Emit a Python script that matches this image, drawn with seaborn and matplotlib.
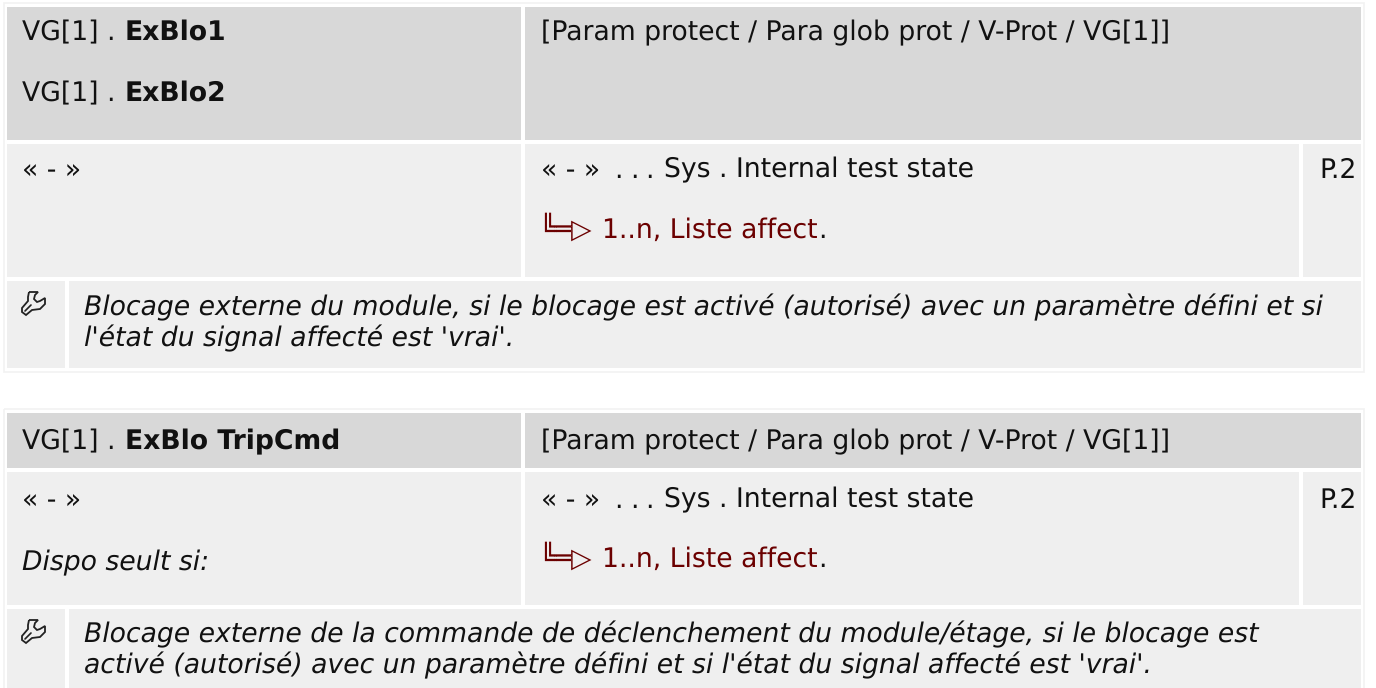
import matplotlib
matplotlib.use("Agg")
import matplotlib.pyplot as plt
from matplotlib.patches import Rectangle, PathPatch
from matplotlib.path import Path
import seaborn as sns

header_names_1 = ["ExBlo1", "ExBlo2"]
header_name_2 = "ExBlo TripCmd"
module_prefix = "VG[1] . "
menu_path = "[Param protect / Para glob prot / V-Prot / VG[1]]"
default_value = "« - »"
signal_name = "Sys . Internal test state"
link_arrow = "╚═▷"
link_text = "1..n, Liste affect"
page_ref = "P.2"
avail_note = "Dispo seult si:"
note_1 = ["Blocage externe du module, si le blocage est activé (autorisé) avec un paramètre défini et si",
          "l'état du signal affecté est 'vrai'."]
note_2 = ["Blocage externe de la commande de déclenchement du module/étage, si le blocage est",
          "activé (autorisé) avec un paramètre défini et si l'état du signal affecté est 'vrai'."]

HEAD = "#d8d8d8"
BODY = "#efefef"
EDGE = "#f2f2f2"
LINK = "#6b0000"
FS = 19.2

sns.set_theme(style="white")
plt.rcParams['font.family'] = ['DejaVu Sans']
plt.rcParams['text.hinting'] = 'no_hinting'

fig = plt.figure(figsize=(13.76, 6.88), dpi=100)
ax = fig.add_axes([0, 0, 1, 1])
ax.set_xlim(0, 1376)
ax.set_ylim(688, 0)
ax.axis("off")


def cell(x0, y0, x1, y1, color):
    ax.add_patch(Rectangle((x0, y0), x1 - x0, y1 - y0, facecolor=color, edgecolor="none"))


def outline(x0, y0, x1, y1):
    ax.add_patch(Rectangle((x0, y0), x1 - x0, y1 - y0, facecolor="none", edgecolor=EDGE, linewidth=1.2))


def label(x, y, s, **kw):
    kw.setdefault("color", "#111111")
    ax.text(x, y, s, fontsize=FS, va="baseline", ha="left", **kw)


def default_row(y):
    label(541, y, default_value)
    for x in [614, 630, 645]:
        label(x, y, ".")
    label(664, y, signal_name)


def link_row(y):
    label(539, y, link_arrow, color=LINK)
    label(602, y, link_text, color=LINK)
    label(818, y, ".")


def wrench(x, y):
    # outline of the little spanner icon, x/y = top left
    pts = [(7, 1), (16, 1), (13, 4), (12, 8), (15, 11), (18, 10), (23, 7), (23, 13), (18, 18),
           (10, 19), (4, 24), (0, 21), (0, 17), (6, 10), (6, 6), (7, 1)]
    codes = [Path.MOVETO] + [Path.LINETO] * (len(pts) - 1)
    ax.add_patch(PathPatch(Path([(x + a, y + b) for a, b in pts], codes), facecolor="none",
                           edgecolor="#222222", linewidth=1.3))
    ax.plot([x + 3, x + 9], [y + 20, y + 14], color="#222222", lw=1.2)


def table(top, head_end, row_end, note_top, note_end):
    cell(7, top, 521, head_end, HEAD)
    cell(525, top, 1361, head_end, HEAD)
    cell(7, head_end + 4, 521, row_end, BODY)
    cell(525, head_end + 4, 1299, row_end, BODY)
    cell(1303, head_end + 4, 1361, row_end, BODY)
    cell(7, note_top, 65, note_end, BODY)
    cell(69, note_top, 1361, note_end, BODY)
    outline(3.5, top - 4, 1364, note_end + 4)


table(7, 140, 277, 281, 368)
table(413, 468, 605, 609, 700)

# first block
label(22, 40, module_prefix)
label(125, 40, header_names_1[0], fontweight="bold")
label(22, 101, module_prefix)
label(125, 101, header_names_1[1], fontweight="bold")
label(541, 40, menu_path)
label(22, 177.5, default_value)
default_row(177.5)
link_row(238)
label(1319, 177.5, page_ref)
wrench(22, 291)
label(84, 315, note_1[0], fontstyle="italic")
label(84, 346, note_1[1], fontstyle="italic")

# second block
label(22, 449.5, module_prefix)
label(125, 449.5, header_name_2, fontweight="bold")
label(541, 449.5, menu_path)
label(22, 507.5, default_value)
label(22, 570, avail_note, fontstyle="italic")
default_row(507.5)
link_row(567)
label(1319, 507.5, page_ref)
wrench(22, 619)
label(84, 642, note_2[0], fontstyle="italic")
label(84, 673, note_2[1], fontstyle="italic")

fig.savefig("out.png", dpi=100, facecolor="white")
